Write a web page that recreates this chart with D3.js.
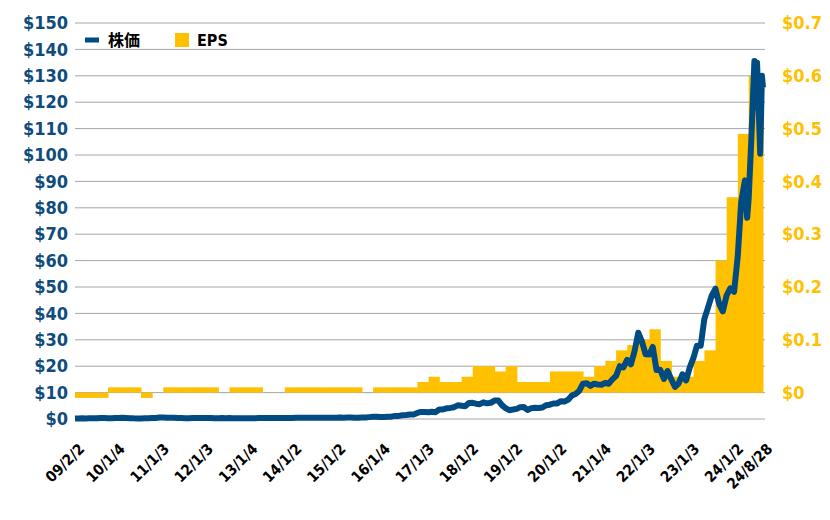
<!DOCTYPE html>
<html lang="ja">
<head>
<meta charset="UTF-8">
<script src="https://d3js.org/d3.v7.min.js"></script>
<style>
body { margin: 0; background: #fff; }
text { font-family: "DejaVu Sans Condensed", "DejaVu Sans", sans-serif; font-weight: bold; }
</style>
</head>
<body>
<svg id="chart" width="830" height="520"></svg>
<script>
// x tick labels (yy/m/d)
var tickLabels = ["09/2/2","10/1/4","11/1/3","12/1/3","13/1/4","14/1/2","15/1/2","16/1/4","17/1/3","18/1/2","19/1/2","20/1/2","21/1/4","22/1/3","23/1/3","24/1/2","24/8/28"];

// quarterly EPS, quarters starting 2009-02
var eps = [-0.01,-0.01,-0.01,0.01,0.01,0.01,-0.01,0,
  0.01,0.01,0.01,0.01,0.01,0,0.01,0.01,0.01,0,0,
  0.01,0.01,0.01,0.01,0.01,0.01,0.01,0,0.01,0.01,0.01,0.01,
  0.02,0.03,0.02,0.02,0.03,0.05,0.05,0.04,0.05,0.02,0.02,0.02,
  0.04,0.04,0.04,0.03,0.05,0.06,0.08,0.09,0.10,0.12,0.06,0.03,0.03,
  0.06,0.08,0.25,0.37,0.49,0.60,0.60];

// monthly price, 2009-02 .. 2023-12
var priceMonthly = [
  0.18,0.22,0.24,0.22,0.25,0.26,0.30,0.35,0.37,0.30,0.33,
  0.34,0.38,0.43,0.39,0.33,0.26,0.23,0.23,0.29,0.31,0.34,0.39,
  0.55,0.58,0.46,0.50,0.50,0.40,0.35,0.32,0.31,0.34,0.36,0.35,
  0.38,0.37,0.38,0.32,0.32,0.35,0.30,0.34,0.33,0.30,0.31,0.31,
  0.32,0.31,0.32,0.36,0.36,0.35,0.35,0.37,0.39,0.38,0.38,0.40,
  0.39,0.44,0.45,0.46,0.49,0.46,0.44,0.49,0.46,0.49,0.50,0.50,
  0.52,0.54,0.52,0.55,0.53,0.50,0.50,0.56,0.61,0.71,0.81,0.82,
  0.75,0.78,0.89,0.89,1.17,1.18,1.43,1.53,1.71,1.72,2.31,2.67,
  2.61,2.53,2.72,2.60,3.60,3.61,4.06,4.20,4.47,5.17,5.00,4.84,
  6.09,6.13,5.79,5.62,6.30,5.92,6.12,7.02,7.02,5.27,4.08,3.34,
  3.59,3.85,4.49,4.52,3.39,4.10,4.22,4.19,4.35,5.21,5.42,5.88,
  5.91,6.75,6.59,7.32,8.88,9.50,10.61,13.38,13.53,12.54,13.38,13.06,
  12.98,13.70,13.35,15.01,16.26,20.00,19.50,22.38,20.71,25.56,32.67,29.41,
  24.49,24.42,27.29,18.54,18.68,15.16,18.17,15.07,12.14,13.51,16.92,14.61,
  19.54,23.22,27.78,27.73,37.83,42.30,46.72,49.35,43.50,40.78,46.77,49.52];

// 2024 points
var recentDates = ["2024-01-02","2024-02-01","2024-03-01","2024-04-01","2024-04-19","2024-05-01","2024-05-24","2024-06-18","2024-06-24","2024-07-10","2024-08-05","2024-08-19","2024-08-28"];
var recentPrices = [48.2,61.5,82.3,90.4,76.2,83.0,106.5,135.6,118.1,134.9,100.5,130.0,125.6];

var svg = d3.select("#chart");
var plotL = 75, plotR = 765, plotT = 23, plotB = 419;
var parse = d3.timeParse("%Y-%m-%d");
var start = parse("2009-02-02"), end = parse("2024-08-28");

var x = d3.scaleTime().domain([start, end]).range([plotL, plotR - 2]);
var y = d3.scaleLinear().domain([0, 150]).range([plotB, plotT]);
var y2 = d3.scaleLinear().domain([0, 0.7]).range([y(10), y(150)]);

// grid
svg.append("g").selectAll("line").data(d3.range(0, 151, 10)).join("line")
  .attr("x1", plotL).attr("x2", plotR)
  .attr("y1", d => y(d)).attr("y2", d => y(d))
  .attr("stroke", "#a6a6a6").attr("stroke-width", 1);

// EPS step bars
var qStart = i => d3.timeMonth.offset(start, i * 3);
svg.append("g").selectAll("rect").data(eps).join("rect")
  .attr("x", (d, i) => x(qStart(i)))
  .attr("width", (d, i) => Math.min(x(qStart(i + 1)), plotR - 2) - x(qStart(i)) + 0.5)
  .attr("y", d => Math.min(y2(d), y2(0)))
  .attr("height", d => Math.abs(y2(d) - y2(0)))
  .attr("fill", "#ffc000");

// price line
var pts = priceMonthly.map((v, i) => [i === 0 ? start : d3.timeMonth.offset(parse("2009-02-01"), i), v]);
recentDates.forEach((d, i) => pts.push([parse(d), recentPrices[i]]));
svg.append("path").datum(pts)
  .attr("fill", "none").attr("stroke", "#004b82").attr("stroke-width", 6)
  .attr("stroke-linejoin", "round")
  .attr("d", d3.line().x(d => x(d[0])).y(d => y(d[1])));

// axes
var yl = svg.append("g").attr("transform", "translate(" + (plotL - 4) + ",0)")
  .call(d3.axisLeft(y).tickValues(d3.range(0, 151, 10)).tickSize(0).tickFormat(d => "$" + d));
yl.select(".domain").remove();
yl.selectAll("text").attr("fill", "#0e4c7d").style("font-size", "18px");

var yr = svg.append("g").attr("transform", "translate(" + (plotR + 14) + ",0)")
  .call(d3.axisRight(y2).tickValues(d3.range(0, 0.71, 0.1)).tickSize(0).tickFormat(d => "$" + (d === 0 ? "0" : d3.format(".1f")(d))));
yr.select(".domain").remove();
yr.selectAll("text").attr("fill", "#ffc000").style("font-size", "18px");

var tickDates = tickLabels.map(s => {
  var p = s.split("/");
  return new Date(2000 + +p[0], +p[1] - 1, +p[2]);
});
var xa = svg.append("g").attr("transform", "translate(0," + (plotB + 3) + ")")
  .call(d3.axisBottom(x).tickValues(tickDates).tickSize(0).tickFormat((d, i) => tickLabels[i]));
xa.select(".domain").remove();
xa.selectAll("text").attr("fill", "#000").style("font-size", "15px")
  .attr("text-anchor", "end").attr("dy", "0.35em").attr("dx", "0")
  .attr("transform", "translate(4,22) rotate(-45)");

// legend
var lg = svg.append("g").attr("transform", "translate(85,40)");
lg.append("line").attr("x1", 0).attr("x2", 14).attr("y1", 0).attr("y2", 0)
  .attr("stroke", "#004b82").attr("stroke-width", 5);
lg.append("text").attr("x", 23).attr("y", 6).text("株価").style("font-size", "16px")
  .style("font-family", "'Noto Sans CJK JP', sans-serif");
lg.append("rect").attr("x", 90).attr("y", -7).attr("width", 14).attr("height", 14).attr("fill", "#ffc000");
lg.append("text").attr("x", 112).attr("y", 6).text("EPS").style("font-size", "16px");
</script>
</body>
</html>
